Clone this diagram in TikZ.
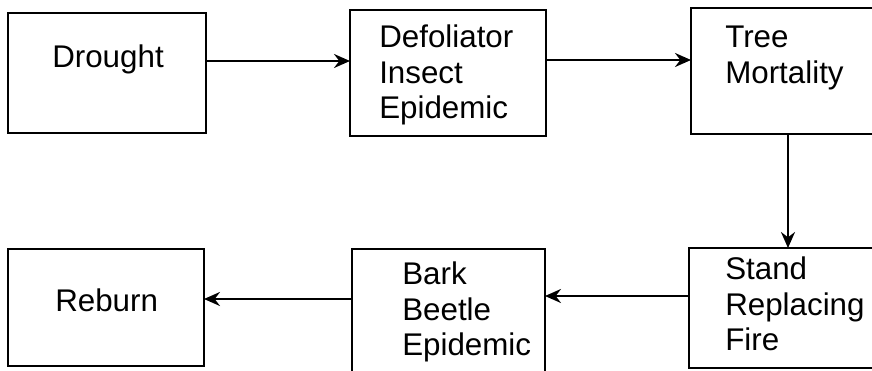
\documentclass[tikz,border=0pt]{standalone}
\usepackage{fontspec}
\setmainfont{Liberation Sans}
\usetikzlibrary{arrows.meta}
\tikzset{
  box/.style={draw, line width=1.9pt, inner sep=0pt, outer sep=0pt},
  lbl/.style={anchor=north west, inner sep=0pt, align=left,
              font=\fontsize{23.5}{26.5}\selectfont},
  arr/.style={line width=1.8pt, -{Stealth[length=12pt,width=10.5pt,inset=4pt]}}
}
\begin{document}
\begin{tikzpicture}[x=0.75pt,y=-0.75pt]
  \path[use as bounding box] (0,0) rectangle (872,371);
  \clip (0,0) rectangle (872,371);
  \fill[white] (0,0) rectangle (872,371);

  % boxes, top row
  \node[box, minimum width=148.5pt, minimum height=90pt]  (drought) at (107,73) {};
  \node[box, minimum width=147pt,   minimum height=94.5pt] (defol)   at (448,73) {};
  \node[box, minimum width=150pt,   minimum height=94.5pt] (tree)    at (791,71) {};
  % boxes, bottom row
  \node[box, minimum width=147pt,   minimum height=88pt]  (reburn)  at (106,307.5) {};
  \node[box, minimum width=144.75pt,minimum height=102pt] (bark)    at (448.5,317) {};
  \node[box, minimum width=150pt,   minimum height=90pt]  (stand)   at (789,308) {};

  % labels
  \node[lbl] (tdrought) at (52,45)  {Drought};
  \node[lbl] (tdefol)   at (379,25) {Defoliator\\Insect\\Epidemic};
  \node[lbl] (ttree)    at (725,26) {Tree\\Mortality};
  \node[lbl] (tstand)   at (725,257) {Stand\\Replacing\\Fire};
  \node[lbl] (tbark)    at (402,262) {Bark\\Beetle\\Epidemic};
  \node[lbl] (treburn)  at (55,289) {Reburn};

  % connectors
  \draw[arr] (drought.east |- 0,61) -- (defol.west |- 0,61);
  \draw[arr] (defol.east |- 0,60) -- (tree.west |- 0,60);
  \draw[arr] (tree.south -| 788,0) -- (stand.north -| 788,0);
  \draw[arr] (stand.west |- 0,296) -- (bark.east |- 0,296);
  \draw[arr] (bark.west |- 0,299) -- (reburn.east |- 0,299);
\end{tikzpicture}
\end{document}
